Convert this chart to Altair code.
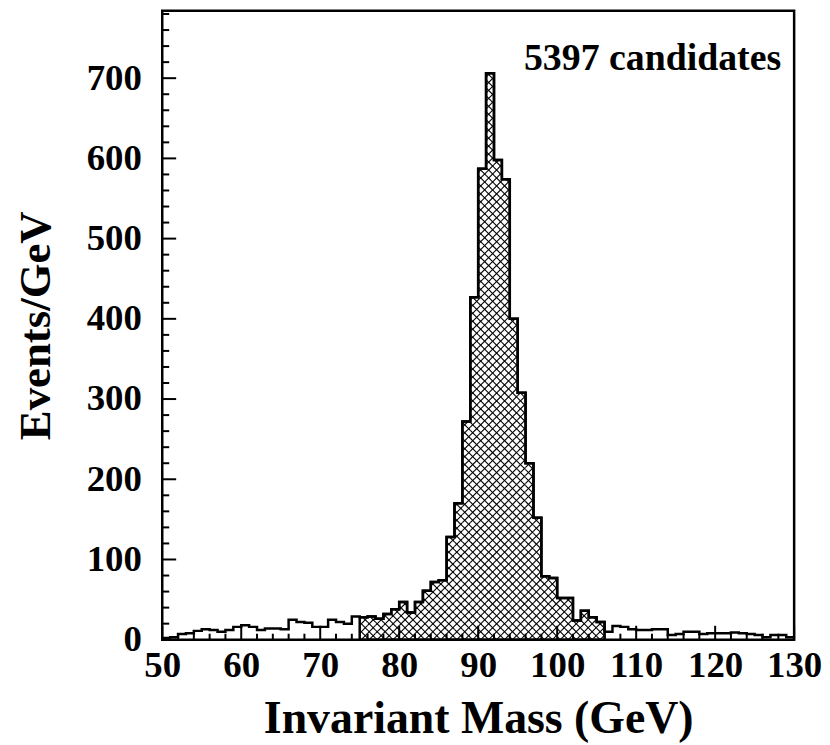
import altair as alt
import pandas as pd

# ---- data ----
bin_start = list(range(50, 130))          # 1 GeV bins, 50..130
counts = [
    2, 3, 7, 8, 11, 13, 12, 10, 12, 16,      # 50-59
    18, 16, 12, 14, 14, 13, 25, 22, 21, 16,  # 60-69
    16, 25, 22, 20, 29, 28, 29, 26, 32, 38,  # 70-79
    47, 34, 47, 61, 72, 74, 128, 170, 272, 427,  # 80-89
    587, 706, 598, 574, 400, 308, 220, 152, 79, 77,  # 90-99
    52, 52, 24, 36, 28, 22, 10, 17, 16, 13,  # 100-109
    12, 12, 13, 13, 6, 7, 10, 10, 7, 8,      # 110-119
    8, 8, 9, 8, 7, 6, 3, 6, 6, 3,            # 120-129
]
x_edges = [50, 130]
hatch_range = [75, 106]
x_major = list(range(50, 131, 10))
x_minor = [v for v in range(50, 131, 2) if v % 10 != 0]
y_major = list(range(0, 701, 100))
y_minor = [v for v in range(20, 781, 20) if v % 100 != 0]
label_text = ["5397 candidates"]
x_title = "Invariant Mass (GeV)"
y_title = "Events/GeV"

# ---- layout ----
W, H = 635, 632
Y_MAX = 784
FONT = "Liberation Serif"
HATCH_STEP = 8.0   # pixel spacing of the cross-hatch lattice

# step data: bin starts plus the closing edge
df_all = pd.DataFrame({"m": bin_start + [x_edges[1]], "n": counts + [counts[-1]]})
lo_i = bin_start.index(hatch_range[0])
hi_i = bin_start.index(hatch_range[1])
h_counts = counts[lo_i:hi_i]
h_starts = bin_start[lo_i:hi_i]
df_hatch = pd.DataFrame({"m": h_starts + [hatch_range[1]],
                         "n": h_counts + [h_counts[-1]]})

# ---- cross-hatch: 45-degree segments clipped to each hatched bin ----
sx = W / (x_edges[1] - x_edges[0])   # px per GeV
sy = H / Y_MAX                        # px per event
segs = []
for lo, c in zip(h_starts, h_counts):
    X0, X1 = (lo - x_edges[0]) * sx, (lo + 1 - x_edges[0]) * sx
    Yt = c * sy
    kmax = int((X1 + Yt) / HATCH_STEP) + 2
    kmin = int((X0 - Yt) / HATCH_STEP) - 2
    for k in range(kmin, kmax + 1):
        cc = k * HATCH_STEP
        # family "\" : X + Y = cc
        xa, xb = max(X0, cc - Yt), min(X1, cc)
        if xa < xb:
            segs.append((xa, cc - xa, xb, cc - xb))
        # family "/" : Y = X - cc
        xa, xb = max(X0, cc), min(X1, cc + Yt)
        if xa < xb:
            segs.append((xa, xa - cc, xb, xb - cc))
df_seg = pd.DataFrame({
    "m": [x_edges[0] + s[0] / sx for s in segs],
    "n": [s[1] / sy for s in segs],
    "m2": [x_edges[0] + s[2] / sx for s in segs],
    "n2": [s[3] / sy for s in segs],
})

xscale = alt.Scale(domain=x_edges, nice=False, zero=False)
yscale = alt.Scale(domain=[0, Y_MAX], nice=False)

x_axis = alt.Axis(values=x_major, format="d", ticks=False, tickSize=0, domain=False,
                  grid=False, labelFont=FONT, labelFontSize=37, labelFontWeight="bold",
                  labelColor="black", labelPadding=8, labelFlush=False,
                  labelOverlap=False, labelBaseline="top",
                  title=x_title, titleFont=FONT, titleFontSize=46, titleFontWeight="bold",
                  titleColor="black", titleX=W / 2, titleY=93, titleAlign="center",
                  titleBaseline="alphabetic", titleAnchor="middle")
y_axis = alt.Axis(values=y_major, format="d", ticks=False, tickSize=0, domain=False,
                  grid=False, labelFont=FONT, labelFontSize=37, labelFontWeight="bold",
                  labelColor="black", labelPadding=21, labelFlush=False,
                  labelOverlap=False,
                  title=y_title, titleFont=FONT, titleFontSize=45, titleFontWeight="bold",
                  titleColor="black", titleX=-113, titleY=H / 2, titleAngle=270,
                  titleAlign="center", titleBaseline="alphabetic", titleAnchor="middle")

X = alt.X("m:Q", scale=xscale, axis=x_axis)
Y = alt.Y("n:Q", scale=yscale, axis=y_axis)

hatch_lines = alt.Chart(df_seg).mark_rule(color="black", strokeWidth=1.1).encode(
    x=X, y=Y, x2="m2:Q", y2="n2:Q")

hatch_outline = alt.Chart(df_hatch).mark_area(
    interpolate="step-after", fillOpacity=0, stroke="black", strokeWidth=2.5
).encode(x=X, y=Y)

outline = alt.Chart(df_all).mark_line(
    interpolate="step-after", color="black", strokeWidth=2.5
).encode(x=X, y=Y)

def yticks(vals, length):
    return alt.Chart(pd.DataFrame({"n": vals})).mark_rule(
        color="black", strokeWidth=2
    ).encode(y=Y, x=alt.value(0), x2=alt.value(length))

def xticks(vals, length):
    return alt.Chart(pd.DataFrame({"m": vals})).mark_rule(
        color="black", strokeWidth=2
    ).encode(x=X, y=alt.value(H), y2=alt.value(H - length))

label = alt.Chart(pd.DataFrame({"t": label_text})).mark_text(
    font=FONT, fontSize=38, fontWeight="bold", color="black",
    align="right", baseline="alphabetic"
).encode(text="t:N", x=alt.value(622), y=alt.value(59))

chart = alt.layer(
    hatch_lines, hatch_outline, outline,
    yticks(y_major, 14), yticks(y_minor, 7),
    xticks(x_major, 14), xticks(x_minor, 6),
    label,
).properties(
    width=W, height=H,
    autosize=alt.AutoSizeParams(type="none"),
    padding={"left": 155, "top": 1, "right": 28, "bottom": 103},
    background="white",
).configure_view(stroke="black", strokeWidth=2.5)

chart.save("out.html", embed_options={"renderer": "svg", "actions": False})
